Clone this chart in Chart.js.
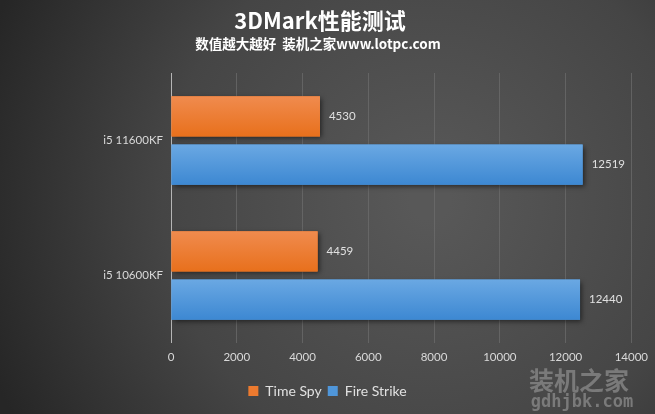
<!DOCTYPE html>
<html>
<head>
<meta charset="utf-8">
<script src="https://cdn.jsdelivr.net/npm/chart.js@4/dist/chart.umd.min.js"></script>
<style>
html,body{margin:0;padding:0;background:#333;}
#wrap{width:655px;height:414px;position:relative;}
</style>
</head>
<body>
<div id="wrap"><canvas id="c" width="655" height="414"></canvas></div>
<script>
const categories = ['i5 11600KF', 'i5 10600KF'];
const seriesNames = ['Time Spy', 'Fire Strike'];
const timeSpy = [4530, 4459];
const fireStrike = [12519, 12440];
const xTicks = [0, 2000, 4000, 6000, 8000, 10000, 12000, 14000];
const titleText = '3DMark性能测试';
const subtitleText = '数值越大越好  装机之家www.lotpc.com';
const watermark1 = '装机之家';
const watermark2 = 'gdhjbk.com';

const colors = [
  {solid:'#ec7a2f', top:'#f08b4e', bottom:'#e8701c'},
  {solid:'#4f96da', top:'#6aa8e3', bottom:'#3d88d2'}
];

const bgPlugin = {
  id:'bg',
  beforeDraw(chart){
    const ctx = chart.ctx, w = chart.width, h = chart.height;
    ctx.save();
    const g = ctx.createRadialGradient(430, 200, 20, 430, 200, 470);
    g.addColorStop(0, '#585858');
    g.addColorStop(0.55, '#454545');
    g.addColorStop(1, '#262626');
    ctx.fillStyle = g;
    ctx.fillRect(0, 0, w, h);
    ctx.restore();
  },
  afterLayout(chart){
    if (chart.legend) { chart.legend.left += 11.5; chart.legend.right += 11.5; }
  },
  beforeDatasetsDraw(chart){
    const ctx = chart.ctx;
    ctx.save();
    ctx.shadowColor = 'rgba(0,0,0,0.55)';
    ctx.shadowBlur = 5;
    ctx.shadowOffsetX = 2;
    ctx.shadowOffsetY = 2;
  },
  afterDatasetsDraw(chart){
    const ctx = chart.ctx;
    ctx.restore();
    chart.data.datasets.forEach((ds, di) => {
      const meta = chart.getDatasetMeta(di);
      meta.data.forEach((el, i) => {
        const top = el.y - el.height/2, left = Math.min(el.x, el.base);
        const w = Math.abs(el.x - el.base);
        const g = ctx.createLinearGradient(0, top, 0, top + el.height);
        g.addColorStop(0, colors[di].top);
        g.addColorStop(1, colors[di].bottom);
        ctx.save();
        ctx.fillStyle = g;
        ctx.fillRect(left, top, w, el.height);
        ctx.restore();
        ctx.save();
        ctx.fillStyle = '#e0e0e0';
        ctx.font = '11.5px Lato, "Open Sans", sans-serif';
        ctx.textAlign = 'left';
        ctx.textBaseline = 'middle';
        ctx.fillText(String(ds.data[i]), el.x + 9, el.y);
        ctx.restore();
      });
    });
  },
  afterDraw(chart){
    const ctx = chart.ctx;
    ctx.save();
    ctx.textAlign = 'center';
    ctx.textBaseline = 'middle';
    ctx.fillStyle = '#ffffff';
    ctx.font = 'bold 22px "Noto Sans CJK SC", "Noto Sans", sans-serif';
    ctx.fillText(titleText, 320, 21);
    ctx.font = 'bold 13.5px "Noto Sans CJK SC", "Noto Sans", sans-serif';
    ctx.fillText(subtitleText, 318, 44);
    ctx.restore();
    // watermark
    ctx.save();
    ctx.textAlign = 'center';
    ctx.textBaseline = 'middle';
    ctx.fillStyle = '#7a7a7a';
    ctx.font = 'bold 25px "Noto Sans CJK SC", sans-serif';
    ctx.fillText(watermark1, 579, 380);
    ctx.font = 'bold 17px "DejaVu Sans Mono", monospace';
    ctx.fillText(watermark2, 582, 403);
    ctx.restore();
  }
};

new Chart(document.getElementById('c'), {
  type:'bar',
  data:{
    labels: categories,
    datasets:[
      {label: seriesNames[0], data: timeSpy, backgroundColor: colors[0].solid, borderWidth:0},
      {label: seriesNames[1], data: fireStrike, backgroundColor: colors[1].solid, borderWidth:0}
    ]
  },
  options:{
    indexAxis:'y',
    responsive:false,
    animation:false,
    devicePixelRatio:1,
    categoryPercentage:0.714,
    barPercentage:0.833,
    layout:{padding:{top:73, right:23, bottom:6, left:0}},
    plugins:{
      tooltip:{enabled:false},
      title:{display:false},
      legend:{
        position:'bottom',
        labels:{
          color:'#e0e0e0',
          boxWidth:10, boxHeight:10,
          padding:6,
          font:{family:'Lato, "Open Sans", sans-serif', size:14}
        }
      }
    },
    scales:{
      x:{
        min:0, max:14000,
        afterBuildTicks(s){ s.ticks = xTicks.map(v => ({value:v})); },
        ticks:{color:'#d9d9d9', font:{family:'Lato, "Open Sans", sans-serif', size:11.5}, padding:7,
          callback:(v)=> String(v)},
        grid:{
          color:(c)=> c.tick && c.tick.value === 0 ? '#b5b5b5' : 'rgba(110,110,110,0.7)',
          drawTicks:false, lineWidth:1
        },
        border:{display:false},
        afterFit(s){ s.height = 35; }
      },
      y:{
        ticks:{color:'#d9d9d9', font:{family:'Lato, "Open Sans", sans-serif', size:11.5}, padding:8},
        grid:{display:false, drawTicks:false},
        border:{display:false},
        afterFit(s){ s.width = 171; }
      }
    }
  },
  plugins:[bgPlugin]
});
</script>
</body>
</html>
